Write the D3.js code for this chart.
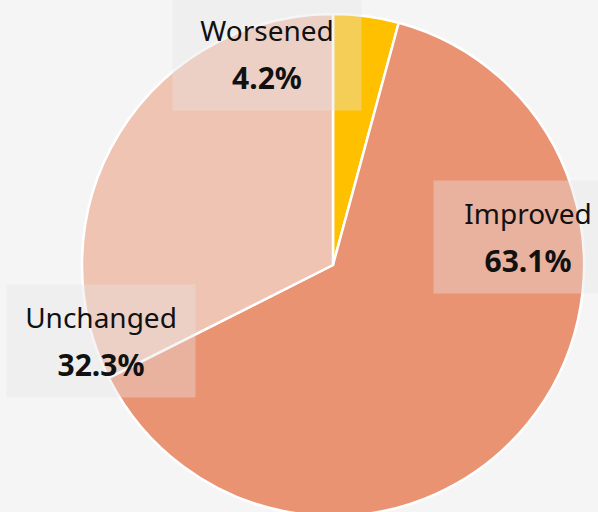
<!DOCTYPE html>
<html>
<head>
<meta charset="utf-8">
<script src="https://cdn.jsdelivr.net/npm/d3@7"></script>
<style>
  html, body { margin: 0; padding: 0; background: #f5f5f5; }
  svg { display: block; }
  .lbl-name { font-family: "Noto Sans", sans-serif; font-size: 28px; fill: #111; }
  .lbl-pct { font-family: "Noto Sans", sans-serif; font-size: 30px; font-weight: bold; fill: #111; }
</style>
</head>
<body>
<script>
// data
const categories = ["Worsened", "Improved", "Unchanged"];
const shares = [4.2, 63.1, 32.3];
const colors = ["#FFC000", "#EA9373", "#F0C4B2"];

// label box centres, relative to the pie centre
const labelPos = [[-66, -211], [195, -28], [-232, 76]];

const w = 598;
const h = 512;
const cx = 333;
const cy = 265;
const radius = 251;

const svg = d3.select("body")
              .append("svg")
              .attr("width", w)
              .attr("height", h);

svg.append("rect")
   .attr("width", w)
   .attr("height", h)
   .attr("fill", "#f5f5f5");

const data = categories.map((c, i) => ({ name: c, value: shares[i], color: colors[i], pos: labelPos[i] }));

const pie = d3.pie()
              .value(d => d.value)
              .sort(null);

const arc = d3.arc()
              .innerRadius(0)
              .outerRadius(radius);

const g = svg.append("g")
             .attr("transform", "translate(" + cx + "," + cy + ")");

g.selectAll("path")
 .data(pie(data))
 .enter()
 .append("path")
 .attr("d", arc)
 .attr("fill", d => d.data.color)
 .attr("stroke", "#fff")
 .attr("stroke-width", 2.5)
 .attr("stroke-linejoin", "round");

// labels
const boxW = 189;
const boxH = 113;

const labels = g.selectAll("g.lbl")
                .data(data)
                .enter()
                .append("g")
                .attr("class", "lbl")
                .attr("transform", d => "translate(" + d.pos[0] + "," + d.pos[1] + ")");

labels.append("rect")
      .attr("x", -boxW / 2)
      .attr("y", -boxH / 2)
      .attr("width", boxW)
      .attr("height", boxH)
      .attr("fill", "rgb(228,228,228)")
      .attr("fill-opacity", 0.38);

labels.append("text")
      .attr("class", "lbl-name")
      .attr("text-anchor", "middle")
      .attr("y", -13)
      .text(d => d.name);

labels.append("text")
      .attr("class", "lbl-pct")
      .attr("text-anchor", "middle")
      .attr("y", 35)
      .text(d => d.value.toFixed(1) + "%");
</script>
</body>
</html>
